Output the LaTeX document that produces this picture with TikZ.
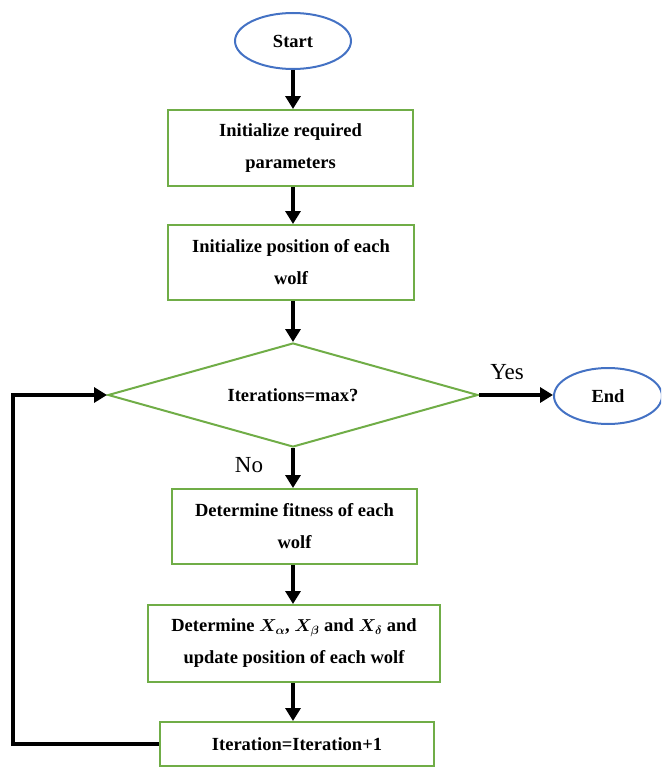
\documentclass[tikz,border=0pt]{standalone}
\usepackage{fontspec}
\usepackage{bm}
\setmainfont{Liberation Serif}
\usetikzlibrary{shapes.geometric,arrows.meta}

\definecolor{boxgreen}{HTML}{70AD47}
\definecolor{ovalblue}{HTML}{4472C4}

\begin{document}
\begin{tikzpicture}[x=1pt,y=-1pt,
  stepbox/.style={draw=boxgreen,line width=2pt,rectangle,align=center,
    font=\fontsize{18.5}{32}\selectfont\bfseries,inner sep=0pt},
  oval/.style={draw=ovalblue,line width=2pt,ellipse,inner sep=0pt,
    font=\fontsize{18.5}{22}\selectfont\bfseries},
  decision/.style={draw=boxgreen,line width=2pt,diamond,inner sep=0pt,
    font=\fontsize{18.5}{22}\selectfont\bfseries},
  flow/.style={line width=3.5pt,-{Triangle[length=13pt,width=15pt]}},
  answer/.style={font=\fontsize{23}{26}\selectfont}]
\clip (0,0) rectangle (661,768);
\useasboundingbox (0,0) rectangle (661,768);

% terminals
\node[oval,minimum width=116pt,minimum height=56pt] (start) at (293,41) {Start};
\node[oval,minimum width=108pt,minimum height=56pt] (end) at (608,396) {End};

% process boxes
\node[stepbox,minimum width=245pt,minimum height=76pt] (init) at (290.5,148)
  {Initialize required\\parameters};
\node[stepbox,minimum width=246pt,minimum height=75pt] (pos) at (291,262.5)
  {Initialize position of each\\wolf};
\node[decision,minimum width=370pt,minimum height=104pt,aspect=3.56] (test) at (293,395)
  {Iterations=max?};
\node[stepbox,minimum width=245pt,minimum height=75pt] (fit) at (294.5,526.5)
  {Determine fitness of each\\wolf};
\node[stepbox,minimum width=292pt,minimum height=77pt] (upd) at (294,643.5)
  {Determine $\bm{X}_{\bm{\alpha}}$, $\bm{X}_{\bm{\beta}}$ and $\bm{X}_{\bm{\delta}}$ and\\update position of each wolf};
\node[stepbox,minimum width=274pt,minimum height=44pt] (inc) at (297,744)
  {Iteration=Iteration+1};

% branch labels
\node[answer] (yes) at (507,372) {Yes};
\node[answer] (no) at (249,465) {No};

% connectors
\coordinate (cx) at (293,0);
\draw[flow] (start.south) -- (cx |- init.north);
\draw[flow] (cx |- init.south) -- (cx |- pos.north);
\draw[flow] (cx |- pos.south) -- (test.north);
\draw[flow] (test.south) -- (cx |- fit.north);
\draw[flow] (cx |- fit.south) -- (cx |- upd.north);
\draw[flow] (cx |- upd.south) -- (cx |- inc.north);
\draw[flow] (test.east) -- (test.east -| end.west);
\coordinate (loopx) at (13,0);
\draw[flow] (inc.west) -- (loopx |- inc.west) -- (loopx |- test.west) -- (test.west);
\end{tikzpicture}
\end{document}
